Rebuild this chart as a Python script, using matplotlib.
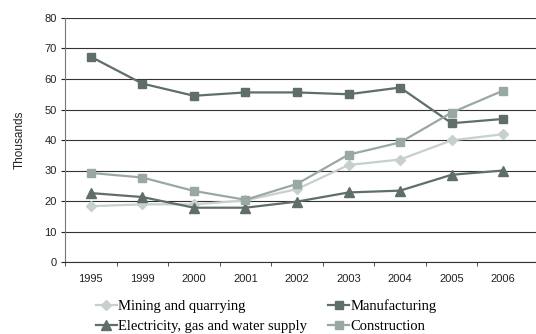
import matplotlib
matplotlib.use("Agg")
import matplotlib.pyplot as plt
import numpy as np

years = ["1995", "1999", "2000", "2001", "2002", "2003", "2004", "2005", "2006"]
mining = [18.3, 18.9, 18.9, 20.2, 23.9, 31.8, 33.6, 39.9, 41.9]
manufacturing = [67.3, 58.5, 54.5, 55.6, 55.6, 55.0, 57.2, 45.5, 46.9]
electricity = [22.6, 21.3, 17.8, 17.8, 19.8, 22.8, 23.4, 28.6, 30.0]
construction = [29.2, 27.7, 23.3, 20.4, 25.6, 35.2, 39.2, 49.0, 56.2]

dark = "#5f6e6a"
mid = "#9aa8a4"
light = "#c6d0cd"

fig = plt.figure(figsize=(5.36, 3.34), dpi=100)
ax = fig.add_axes([65 / 536, 1 - 262 / 334, 471 / 536, 244 / 334])

x = np.arange(len(years))
lw = 1.6
l_mining, = ax.plot(x, mining, color=light, lw=lw, marker="D", ms=5, zorder=3)
l_elec, = ax.plot(x, electricity, color=dark, lw=lw, marker="^", ms=6.5, zorder=3)
l_manu, = ax.plot(x, manufacturing, color=dark, lw=lw, marker="s", ms=6, zorder=4)
l_cons, = ax.plot(x, construction, color=mid, lw=lw, marker="s", ms=6, zorder=4)

ax.set_ylim(0, 80)
ax.set_yticks(range(0, 81, 10))
ax.set_xlim(-0.5, 8.5 + 7 / 51.55)
ax.set_xticks(x)
ax.set_xticklabels(years)
ax.set_xticks(np.arange(-0.5, 8.5, 1), minor=True)
ax.tick_params(axis="x", which="major", length=0, pad=9)
ax.tick_params(axis="x", which="minor", length=3, direction="out", color="#333333")
ax.tick_params(axis="y", length=3, direction="out", color="#555555", pad=3)
ax.tick_params(labelsize=8, colors="#222222")
for lab in ax.get_xticklabels() + ax.get_yticklabels():
    lab.set_family("Liberation Sans")

ax.yaxis.grid(True, color="#333333", lw=0.8)
ax.set_axisbelow(True)
for s in ("top", "right"):
    ax.spines[s].set_visible(False)
ax.spines["left"].set_color("#777777")
ax.spines["bottom"].set_color("#333333")
ax.spines["left"].set_linewidth(0.8)
ax.spines["bottom"].set_linewidth(0.8)

ax.set_ylabel("Thousands", fontsize=8.5, family="Liberation Sans", color="#222222", labelpad=13)

fig.legend(
    [l_mining, l_elec, l_manu, l_cons],
    ["Mining and quarrying", "Electricity, gas and water supply", "Manufacturing", "Construction"],
    ncol=2, loc="lower left", bbox_to_anchor=(83 / 536, -0.036),
    frameon=False, handlelength=1.4, handletextpad=0.12, columnspacing=1.45,
    labelspacing=0.45, prop={"family": "Liberation Serif", "size": 10.5},
)

fig.savefig("out.png", dpi=100)
